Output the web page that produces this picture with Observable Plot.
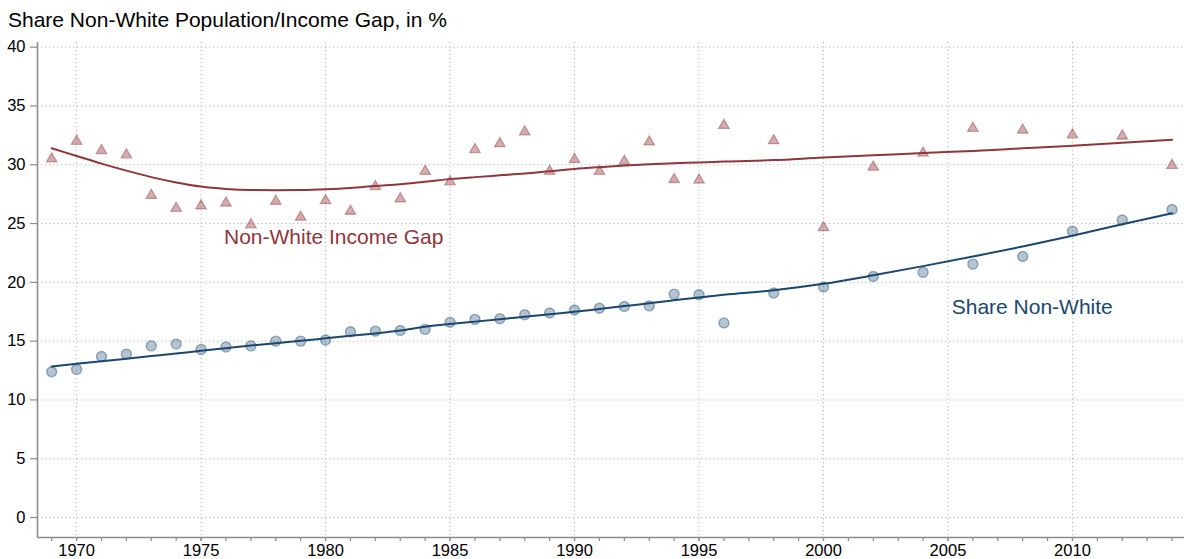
<!DOCTYPE html>
<html>
<head>
<meta charset="utf-8">
<script src="https://cdn.jsdelivr.net/npm/d3@7"></script>
<script src="https://cdn.jsdelivr.net/npm/@observablehq/plot@0.6"></script>
<style>
  body { margin: 0; background: #fff; }
  #wrap { position: relative; width: 1184px; height: 559px; font-family: "Liberation Sans", Arial, sans-serif; }
  #title { position: absolute; left: 8px; top: 9px; font-size: 21px; line-height: 21px; color: #000; white-space: nowrap; }
</style>
</head>
<body>
<div id="wrap"><div id="title">Share Non-White Population/Income Gap, in %</div></div>
<script>
// Survey years
const years = [1969, 1970, 1971, 1972, 1973, 1974, 1975, 1976, 1977, 1978,
               1979, 1980, 1981, 1982, 1983, 1984, 1985, 1986, 1987, 1988,
               1989, 1990, 1991, 1992, 1993, 1994, 1995, 1996, 1998, 2000,
               2002, 2004, 2006, 2008, 2010, 2012, 2014];

// Non-White income gap, % (triangles)
const incomeGap = [30.5, 32.0, 31.2, 30.85, 27.4, 26.3, 26.5, 26.75, 24.9, 26.9,
                   25.55, 26.95, 26.05, 28.15, 27.1, 29.45, 28.55, 31.3, 31.8, 32.8,
                   29.45, 30.45, 29.45, 30.3, 31.95, 28.75, 28.7, 33.35, 32.05, 24.65,
                   29.8, 31.0, 33.1, 32.95, 32.55, 32.45, 29.95];

// Share non-white, % (circles)
const shareNonWhite = [12.4, 12.6, 13.7, 13.9, 14.6, 14.75, 14.3, 14.5, 14.6, 15.0,
                       15.0, 15.1, 15.8, 15.85, 15.9, 16.0, 16.6, 16.85, 16.9, 17.25,
                       17.4, 17.65, 17.8, 17.95, 18.0, 19.0, 18.95, 16.55, 19.1, 19.6,
                       20.5, 20.85, 21.55, 22.2, 24.35, 25.3, 26.2];

// Smoothed fit lines
const incomeGapFit = [31.4, 30.75, 30.1, 29.5, 28.95, 28.5, 28.15, 27.95, 27.85, 27.83,
                      27.85, 27.92, 28.03, 28.2, 28.35, 28.55, 28.78, 28.95, 29.1, 29.25,
                      29.45, 29.65, 29.8, 29.93, 30.05, 30.13, 30.2, 30.28, 30.4, 30.62,
                      30.8, 31.0, 31.18, 31.4, 31.62, 31.87, 32.13];

const shareFit = [12.85, 13.07, 13.29, 13.51, 13.73, 13.95, 14.18, 14.4, 14.62, 14.83,
                  15.03, 15.24, 15.45, 15.66, 15.9, 16.23, 16.45, 16.66, 16.87, 17.08,
                  17.29, 17.5, 17.74, 17.98, 18.22, 18.47, 18.72, 18.95, 19.33, 19.88,
                  20.6, 21.38, 22.2, 23.05, 23.97, 24.95, 25.88];

// Axis ticks
const yTicks = [0, 5, 10, 15, 20, 25, 30, 35, 40];
const xLabelTicks = [1970, 1975, 1980, 1985, 1990, 1995, 2000, 2005, 2010];
const xMinorTicks = d3.range(1969, 2015);

// Series labels
const seriesLabels = [
  {x: 1975.92, y: 23.22, text: "Non-White Income Gap", color: "#90353B"},
  {x: 2005.15, y: 17.31, text: "Share Non-White", color: "#1A476F"}
];

const xDomain = [1968.43, 2014.5];
const yDomain = [-1.7, 40.4];

const red = "#90353B";
const navy = "#1A476F";
const axisGrey = "#8c8c8c";

const data = years.map((yr, i) => ({
  year: yr,
  gap: incomeGap[i],
  share: shareNonWhite[i],
  gapFit: incomeGapFit[i],
  shareFit: shareFit[i]
}));

const chart = Plot.plot({
  width: 1184,
  height: 559,
  marginLeft: 37,
  marginRight: 0,
  marginTop: 42,
  marginBottom: 22,
  x: {domain: xDomain, label: null},
  y: {domain: yDomain, label: null},
  style: {fontFamily: "'Liberation Sans', Arial, sans-serif", fontSize: "16.5px", color: "#000", background: "#fff", overflow: "visible"},
  marks: [
    Plot.gridY(yTicks, {stroke: "#b4b4b4", strokeOpacity: 1, strokeWidth: 1, strokeDasharray: "1.2,2.8"}),
    Plot.gridX(xLabelTicks, {stroke: "#b4b4b4", strokeOpacity: 1, strokeWidth: 1, strokeDasharray: "1.2,2.8"}),
    Plot.ruleX([xDomain[0]], {stroke: axisGrey, strokeWidth: 1.6}),
    Plot.ruleY([yDomain[0]], {stroke: axisGrey, strokeWidth: 1.6}),
    Plot.axisY(yTicks, {tickSize: 7, tickPadding: 5, stroke: axisGrey, strokeWidth: 1.2, fontSize: 16.5, tickFormat: "d", label: null}),
    Plot.axisX(xMinorTicks, {tickSize: 4, stroke: axisGrey, strokeWidth: 1.2, tickFormat: () => "", label: null}),
    Plot.axisX(xLabelTicks, {tickSize: 4, tickPadding: 3, stroke: axisGrey, strokeWidth: 1.2, fontSize: 16.5, tickFormat: "d", label: null}),
    Plot.dot(data, {x: "year", y: "gap", symbol: "triangle", r: 3.9, fill: red, fillOpacity: 0.4, stroke: red, strokeOpacity: 0.42, strokeWidth: 1.3}),
    Plot.dot(data, {x: "year", y: "share", symbol: "circle", r: 5, fill: navy, fillOpacity: 0.32, stroke: navy, strokeOpacity: 0.42, strokeWidth: 1.4}),
    Plot.line(data, {x: "year", y: "gapFit", stroke: red, strokeWidth: 2, curve: "monotone-x"}),
    Plot.line(data, {x: "year", y: "shareFit", stroke: navy, strokeWidth: 2, curve: "monotone-x"}),
    Plot.text(seriesLabels, {x: "x", y: "y", text: "text", fill: "color", fontSize: 21, textAnchor: "start", lineAnchor: "bottom"})
  ]
});

document.getElementById("wrap").prepend(chart);
</script>
</body>
</html>
